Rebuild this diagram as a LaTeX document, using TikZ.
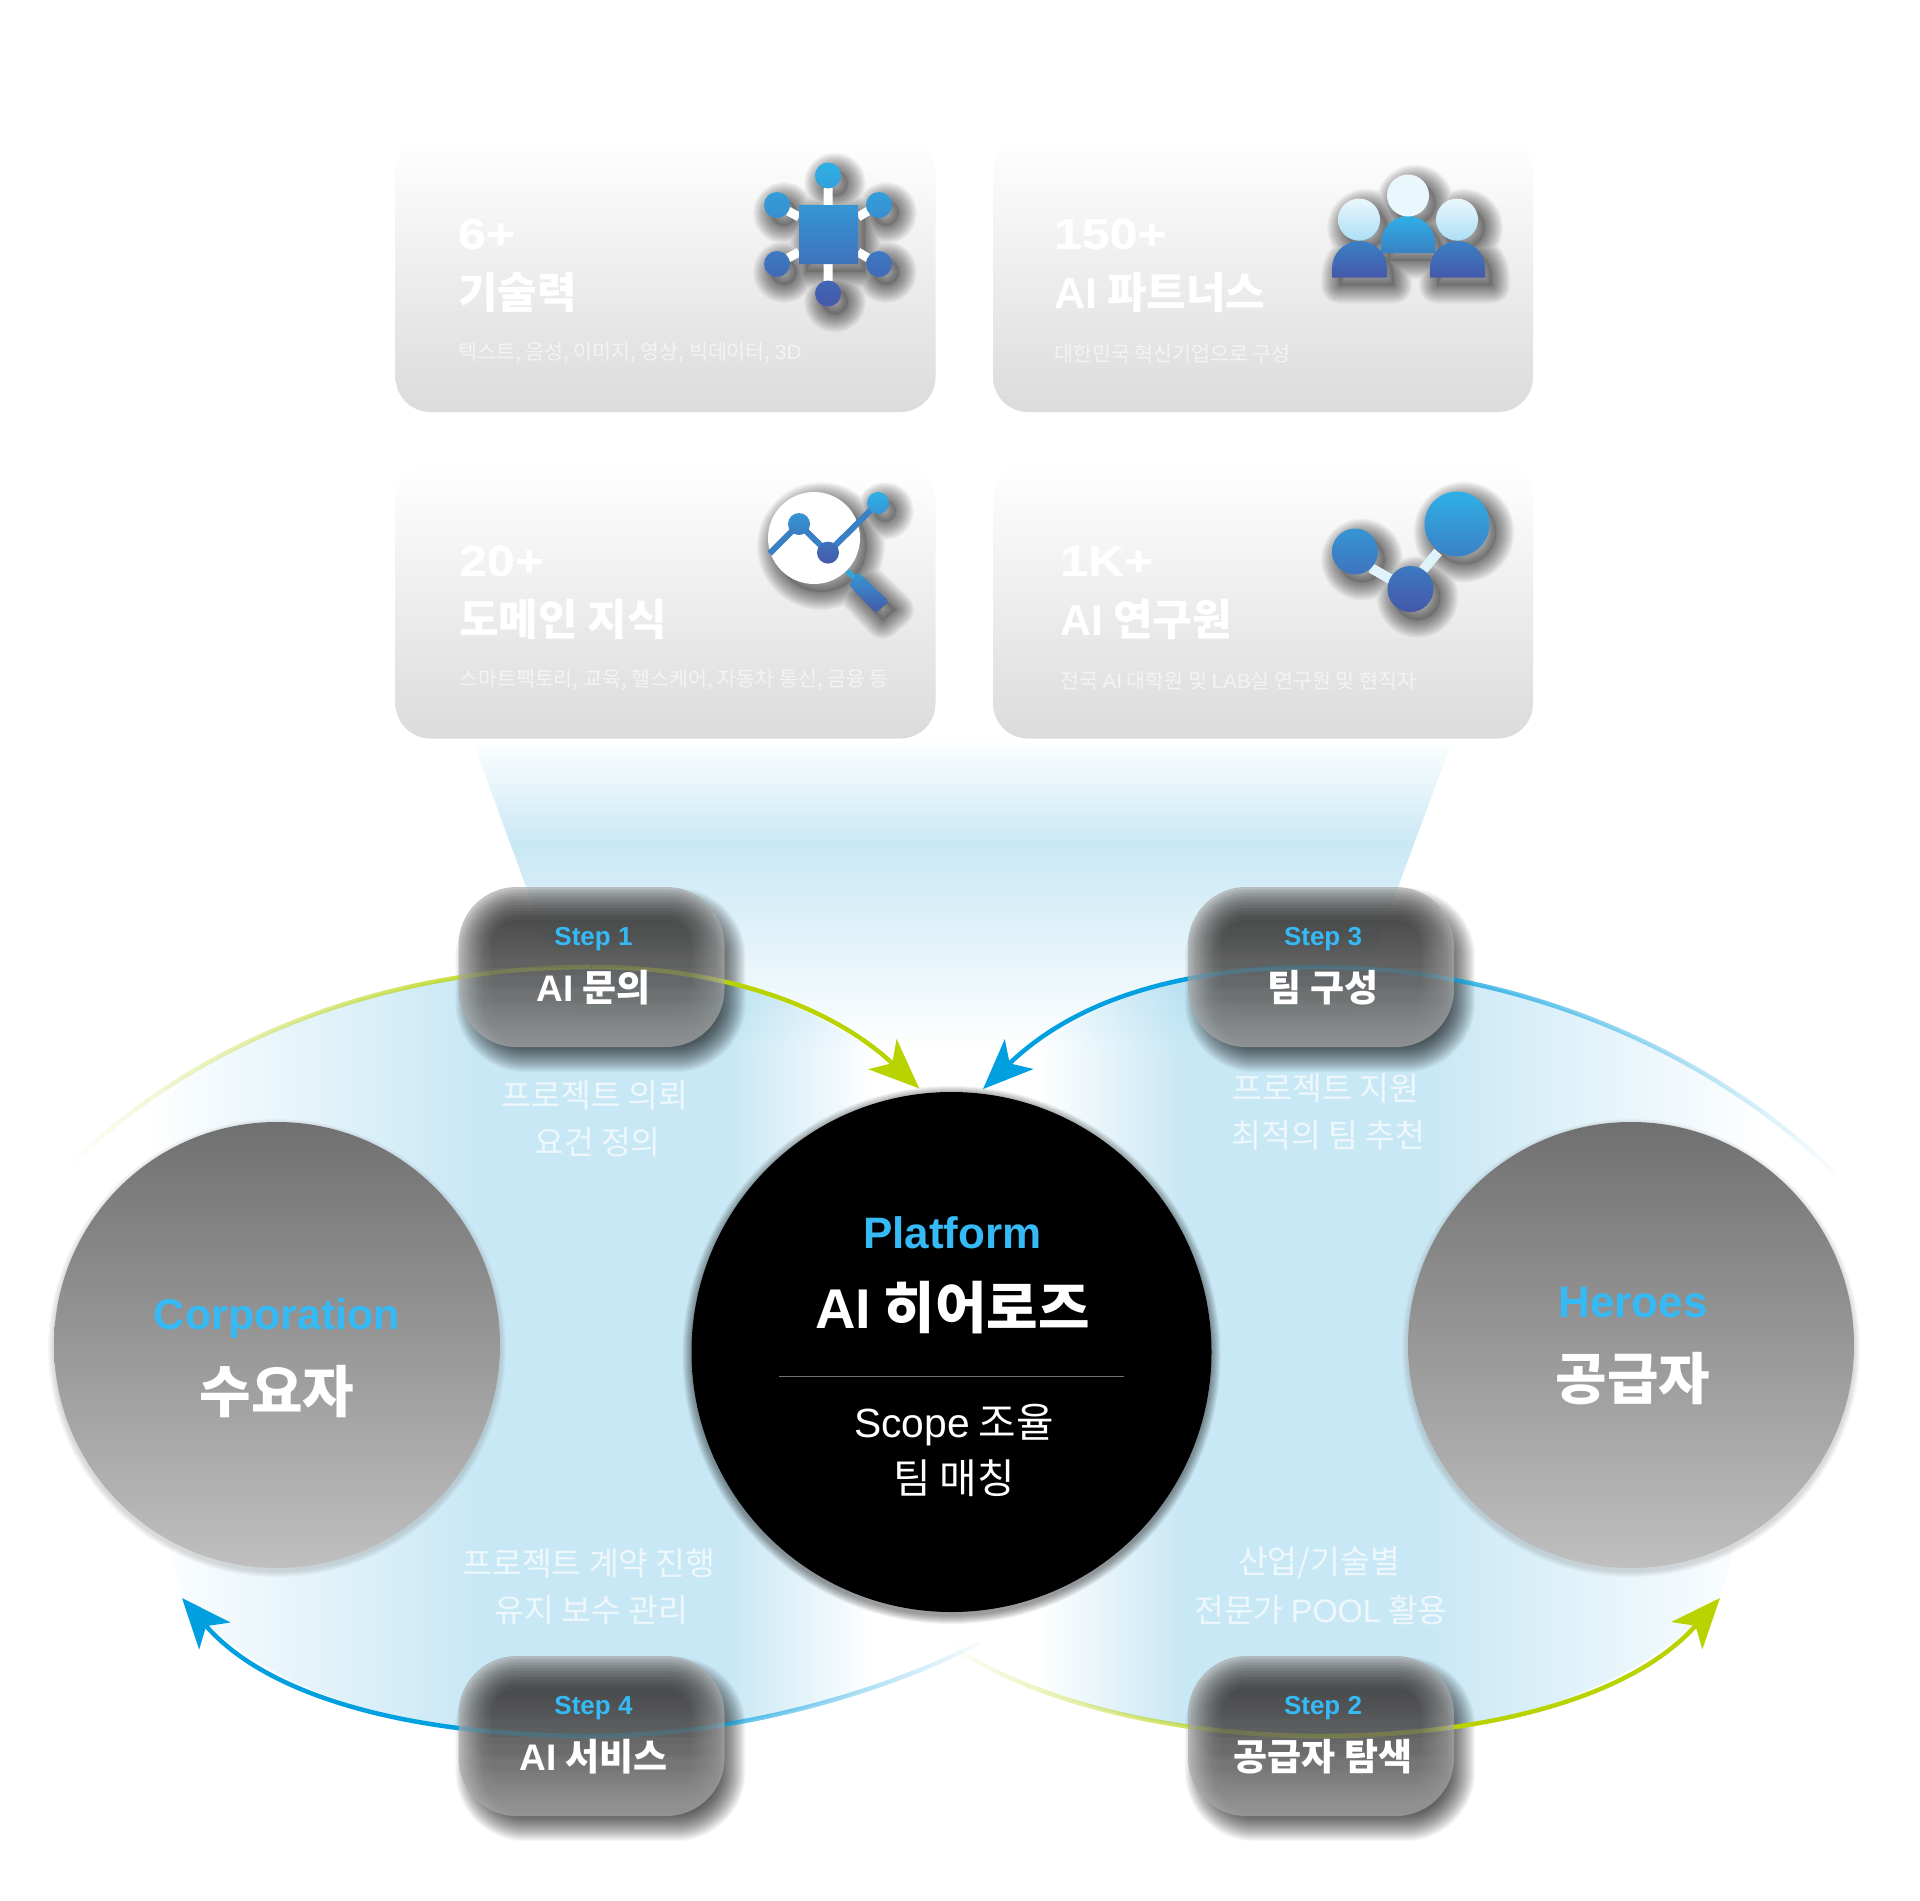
\documentclass[tikz,border=0pt]{standalone}
\usepackage{fontspec}
\setmainfont{Noto Sans CJK KR}
\newfontfamily\latinfam{Liberation Sans}
\newfontfamily\numfam[FakeStretch=1.16,FakeBold=0.8]{Liberation Sans}
\usetikzlibrary{arrows.meta,positioning,fadings,calc}
\pgfdeclarelayer{back}
\pgfdeclarelayer{glow}
\pgfdeclarelayer{arcs}
\pgfsetlayers{back,glow,arcs,main}
\definecolor{skytext}{HTML}{35BAF6}
\definecolor{paleblue}{HTML}{C9E8F5}
\definecolor{arcgreen}{HTML}{B9D300}
\definecolor{arcblue}{HTML}{009FDF}
\definecolor{icontop}{HTML}{2FB0E6}
\definecolor{iconmid}{HTML}{3A80C4}
\definecolor{iconlow}{HTML}{4558AA}
\pgfdeclarehorizontalshading{lensleft}{100bp}{color(0bp)=(white); color(29bp)=(white); color(47bp)=(paleblue); color(61bp)=(paleblue); color(69bp)=(white); color(100bp)=(white)}
\pgfdeclarehorizontalshading{lensright}{100bp}{color(0bp)=(white); color(30bp)=(white); color(38bp)=(paleblue); color(52bp)=(paleblue); color(71bp)=(white); color(100bp)=(white)}
\pgfdeclareverticalshading{beamfill}{100bp}{color(0bp)=(white); color(25bp)=(white); color(58bp)=(paleblue); color(75bp)=(white); color(100bp)=(white)}
\tikzfading[name=fade in east,left color=transparent!100,right color=transparent!0]
\tikzfading[name=fade in west,left color=transparent!0,right color=transparent!100]
\newcommand{\fsz}[1]{\fontsize{#1}{#1}\selectfont}
\newcommand{\lat}[1]{{\latinfam #1}}
\newcommand{\num}[1]{{\numfam #1}}
\newcommand{\stepglow}[1]{%
  \foreach \d in {3,6,...,33} {
    \fill[black,opacity=.06,path fading=south,rounded corners=(58-\d)*1pt] ($(#1.south west)+(\d,-\d)$) rectangle ($(#1.north east)+(-\d,\d)$);
  }}
\newcommand{\stepshadow}[1]{%
  \begin{pgfonlayer}{glow}
    \foreach \d in {12,11,...,-16} {
      \fill[black,opacity=.033,rounded corners=(58+\d)*1pt] ($(#1.south west)+(9-\d,13+\d)$) rectangle ($(#1.north east)+(9+\d,13-\d)$);
    }
  \end{pgfonlayer}}
\newcommand{\softdisc}[4]{%
  \begin{pgfonlayer}{glow}
    \foreach \d in {1,...,#4} {
      \fill[#3,opacity=.05] ($(#1.center)+(0,3)$) circle[radius=(#2+\d)*1pt];
    }
  \end{pgfonlayer}}
\newcommand{\softshadow}[1]{%
  \begin{scope}[shift={(7,8)}]
    \foreach \w in {36,34,...,2} {
      \draw[black,opacity=.03,line width=\w pt,line join=round] #1;
    }
    \fill[black,opacity=.12] #1;
  \end{scope}}
\tikzset{
  card/.style={rectangle,rounded corners=35pt,minimum width=540pt,minimum height=274pt,top color=white,bottom color=black!14},
  title/.style={anchor=west,inner sep=0pt,text=white,font=\fsz{43}\bfseries},
  subtext/.style={anchor=west,inner sep=0pt,text=white,text opacity=.6,font=\fsz{20.6}},
  stepbox/.style={rectangle,rounded corners=58pt,minimum width=266pt,minimum height=160pt,fill=black!34,fill opacity=.7},
  steplabel/.style={inner sep=0pt,text=skytext,font=\fsz{26}\bfseries},
  stepname/.style={inner sep=0pt,text=white,font=\fsz{37}\bfseries},
  captext/.style={inner sep=0pt,text=white,text opacity=.7,font=\fsz{32.4}},
  bigcircle/.style={circle,minimum size=446pt,top color=black!56,bottom color=black!25},
  flow/.style={line width=4.5pt},
  flowtip/.style={-{Stealth[length=50pt,width=41pt,inset=13pt]}}
}
\begin{document}
\begin{tikzpicture}[x=1pt,y=-1pt]

  \path[use as bounding box] (0,0) rectangle (1920,1901);

  \node[card] (card1) at (665.5,275) {};
  \node[card] (card2) at (1263,275) {};
  \node[card] (card3) at (665.5,601.5) {};
  \node[card] (card4) at (1263,601.5) {};

  \node[title] (num1) at (458,234) {\num{6+}};
  \node[title] (name1) at (458,292.5) {기술력};
  \node[subtext] (sub1) at (458,353) {텍스트, 음성, 이미지, 영상, 빅데이터, \lat{3D}};
  \node[title] (num2) at (1054,234) {\num{150+}};
  \node[title] (name2) at (1054,292.5) {\lat{AI} 파트너스};
  \node[subtext] (sub2) at (1054,354) {대한민국 혁신기업으로 구성};
  \node[title] (num3) at (459,561) {\num{20+}};
  \node[title] (name3) at (459,619.5) {도메인 지식};
  \node[subtext] (sub3) at (459,680) {스마트팩토리, 교육, 헬스케어, 자동차 통신, 금융 등};
  \node[title] (num4) at (1060,561) {\num{1K+}};
  \node[title] (name4) at (1060,619.5) {\lat{AI} 연구원};
  \node[subtext] (sub4) at (1060,681) {전국 \lat{AI} 대학원 및 \lat{LAB}실 연구원 및 현직자};

  % hub icon
  \softshadow{(828,175.5) circle (13pt) (777,205) circle (13pt) (879,205) circle (13pt) (777,264) circle (13pt) (879,264) circle (13pt) (828,293.5) circle (13pt) (799,205) rectangle (858,264)}
  \draw[white,line width=9pt] (828,188) -- (828,205) (828,264) -- (828,281) (788,211) -- (799,217) (868,211) -- (858,217) (788,258) -- (799,252) (868,258) -- (858,252);
  \shade[top color=icontop,bottom color=iconlow] (828,175.5) circle (13pt) (777,205) circle (13pt) (879,205) circle (13pt) (777,264) circle (13pt) (879,264) circle (13pt) (828,293.5) circle (13pt) (799,205) rectangle (858,264);

  % people icon
  \softshadow{(1381,253) -- ++(0,-10) arc[start angle=180,end angle=0,radius=27pt] -- ++(0,10) -- cycle (1332,277.5) -- ++(0,-9) arc[start angle=180,end angle=0,radius=27.5pt] -- ++(0,9) -- cycle (1430,277.5) -- ++(0,-9) arc[start angle=180,end angle=0,radius=27.5pt] -- ++(0,9) -- cycle (1408,195.5) circle (21pt) (1359,219.6) circle (21pt) (1457,219.6) circle (21pt)}
  \shade[top color=icontop,bottom color=iconmid] (1381,253) -- ++(0,-10) arc[start angle=180,end angle=0,radius=27pt] -- ++(0,10) -- cycle;
  \shade[top color=iconmid,bottom color=iconlow] (1332,277.5) -- ++(0,-9) arc[start angle=180,end angle=0,radius=27.5pt] -- ++(0,9) -- cycle
    (1430,277.5) -- ++(0,-9) arc[start angle=180,end angle=0,radius=27.5pt] -- ++(0,9) -- cycle;
  \fill[icontop!10!white] (1408,195.5) circle (21pt);
  \shade[top color=icontop!10!white,bottom color=icontop!40!white] (1359,219.6) circle (21pt) (1457,219.6) circle (21pt);

  % chart icon
  \softshadow{(814,538) circle (46pt) (858,572) -- (889,601.6) -- (875.6,613) -- (849,585) -- cycle (878,503) circle (11pt)}
  \fill[white] (814,538) circle (46pt);
  \draw[line width=5pt,icontop!80!iconmid] (847,571) -- (858,581);
  \shade[top color=icontop!50!iconmid,bottom color=iconlow,rounded corners=3pt] (858,572) -- (889,601.6) -- (875.6,613) -- (849,585) -- cycle;
  \draw[line width=6pt,iconmid] (769.6,553.5) -- (799,524) -- (828,552.6) -- (878,503);
  \shade[top color=icontop,bottom color=iconlow] (878,503) circle (11pt) (799,524) circle (11pt) (828,552.6) circle (11pt);

  % molecule icon
  \softshadow{(1457,524) circle (32.5pt) (1355,551.5) circle (23pt) (1410.5,589) circle (23pt)}
  \draw[line width=10pt,icontop!15!white] (1371,568) -- (1392,580) (1423,570) -- (1438,552);
  \shade[top color=icontop,bottom color=iconlow] (1457,524) circle (32.5pt) (1355,551.5) circle (23pt) (1410.5,589) circle (23pt);

  % main circles
  \node[bigcircle] (corp) at (277,1345) {};
  \node[bigcircle] (hero) at (1631,1345) {};
  \node[circle,minimum size=520pt,fill=black] (plat) at (951.5,1352) {};
  \softdisc{corp}{223}{black!50}{6}
  \softdisc{hero}{223}{black!50}{6}
  \softdisc{plat}{260}{black}{9}

  % steps
  \node[stepbox] (step1) at (591.5,967) {};
  \node[stepbox] (step3) at (1321,967) {};
  \node[stepbox] (step4) at (591.5,1736) {};
  \node[stepbox] (step2) at (1321,1736) {};
  \stepshadow{step1}
  \stepshadow{step2}
  \stepshadow{step3}
  \stepshadow{step4}
  \stepglow{step1}
  \stepglow{step2}
  \stepglow{step3}
  \stepglow{step4}

  \node[steplabel,xshift=2pt,yshift=28pt] (lab1) at (step1) {\lat{Step 1}};
  \node[stepname,xshift=2pt,yshift=-21pt] (nam1) at (step1) {\lat{AI} 문의};
  \node[steplabel,xshift=2pt,yshift=28pt] (lab2) at (step2) {\lat{Step 2}};
  \node[stepname,xshift=2pt,yshift=-21pt] (nam2) at (step2) {공급자 탐색};
  \node[steplabel,xshift=2pt,yshift=28pt] (lab3) at (step3) {\lat{Step 3}};
  \node[stepname,xshift=2pt,yshift=-21pt] (nam3) at (step3) {팀 구성};
  \node[steplabel,xshift=2pt,yshift=28pt] (lab4) at (step4) {\lat{Step 4}};
  \node[stepname,xshift=2pt,yshift=-21pt] (nam4) at (step4) {\lat{AI} 서비스};

  \node[captext] (cap1) at (595,1095.5) {프로젝트 의뢰};
  \node[captext] (cap1b) at (597.5,1142) {요건 정의};
  \node[captext] (cap3) at (1326,1088) {프로젝트 지원};
  \node[captext] (cap3b) at (1328.6,1135) {최적의 팀 추천};
  \node[captext] (cap4) at (589,1563) {프로젝트 계약 진행};
  \node[captext] (cap4b) at (591.5,1610) {유지 보수 관리};
  \node[captext] (cap2) at (1319,1563) {산업/기술별};
  \node[captext] (cap2b) at (1321,1610) {전문가 \lat{POOL} 활용};

  \node[inner sep=0pt,text=skytext,font=\fsz{43}\bfseries] (corptop) at (277,1318) {\lat{Corporation}};
  \node[inner sep=0pt,text=white,font=\fsz{56}\bfseries] (corpname) at (277,1392) {수요자};
  \node[inner sep=0pt,text=skytext,font=\fsz{44}\bfseries] (herotop) at (1633,1303) {\lat{Heroes}};
  \node[inner sep=0pt,text=white,font=\fsz{56}\bfseries] (heroname) at (1633,1379) {공급자};

  \node[inner sep=0pt,text=skytext,font=\fsz{44}\bfseries] (plattop) at (952.5,1233) {\lat{Platform}};
  \node[inner sep=0pt,text=white,font=\fsz{56}\bfseries] (platname) at (952.5,1308) {\lat{AI} 히어로즈};
  \coordinate (divl) at (779,1376);
  \coordinate (divr) at (1124,1376);
  \draw[black!55,line width=1pt] (divl) -- (divr);
  \node[inner sep=0pt,text=white,font=\fsz{40.8}] (platsub) at (954,1425) {\lat{Scope} 조율};
  \node[inner sep=0pt,text=white,font=\fsz{40.8}] (platsubb) at (954,1478) {팀 매칭};

  % connectors and glow go under everything
  \coordinate (gstart) at (73,1163);
  \coordinate (bend) at (1837,1175);
  \coordinate (bstart) at (985,1640);
  \coordinate (gend) at (950,1645);
  \coordinate (corptip) at (182,1598);
  \coordinate (herotip) at (1720,1598);

  \begin{pgfonlayer}{back}
    \fill[white] (0,0) rectangle (1920,1901);
    \shade[shading=beamfill] (471.5,738) -- (1453,738) -- (1338,1050) -- (586,1050) -- cycle;
    \shade[shading=lensleft,blend mode=multiply] (gstart) .. controls (220,1020) and (420,967) .. (step1.center) .. controls (720,967) and (830,1005) .. (plat.96) -- (bstart) .. controls (890,1690) and (740,1736) .. (step4.center) .. controls (420,1736) and (270,1700) .. (corptip) -- cycle;
    \shade[shading=lensright,blend mode=multiply] (bend) .. controls (1700,1040) and (1500,967) .. (step3.center) .. controls (1170,967) and (1070,1005) .. (plat.83) -- (gend) .. controls (1030,1700) and (1170,1736) .. (step2.center) .. controls (1480,1736) and (1630,1700) .. (herotip) -- cycle;
  \end{pgfonlayer}

  \begin{pgfonlayer}{arcs}
    \draw[flow,arcgreen,path fading=fade in east] (gstart) .. controls (220,1020) and (420,967) .. (step1.center);
    \draw[flow,arcgreen,flowtip,shorten >=7pt] (step1.center) .. controls (720,967) and (830,1005) .. (plat.96);
    \draw[flow,arcblue,path fading=fade in west] (step3.center) .. controls (1500,967) and (1700,1040) .. (bend);
    \draw[flow,arcblue,flowtip,shorten >=6pt] (step3.center) .. controls (1170,967) and (1070,1005) .. (plat.84);
    \draw[flow,arcblue,flowtip] (step4.center) .. controls (420,1736) and (270,1700) .. (corptip);
    \draw[flow,arcblue,path fading=fade in west] (step4.center) .. controls (740,1736) and (890,1690) .. (bstart);
    \draw[flow,arcgreen,flowtip] (step2.center) .. controls (1480,1736) and (1630,1700) .. (herotip);
    \draw[flow,arcgreen,path fading=fade in east] (gend) .. controls (1030,1700) and (1170,1736) .. (step2.center);
  \end{pgfonlayer}

\end{tikzpicture}
\end{document}
